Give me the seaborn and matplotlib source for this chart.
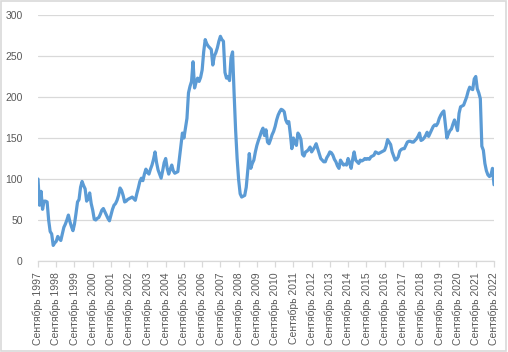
import numpy as np
import pandas as pd
import matplotlib
matplotlib.use("Agg")
import matplotlib.pyplot as plt
import seaborn as sns
from matplotlib.patches import Rectangle

# Ежемесячные значения, сентябрь 1997 - сентябрь 2022
start_year = 1997
end_year = 2022
values = [
    100, 68, 85, 63, 73, 73, 72, 50, 36, 33, 19, 22,       # 1997-09 .. 1998-08
    24, 30, 27, 25, 33, 41, 45, 50, 56, 48, 42, 37,        # 1998-09 ..
    45, 58, 72, 75, 90, 97, 92, 88, 73, 76, 83, 70,        # 1999-09 ..
    62, 51, 50, 52, 53, 57, 62, 64, 60, 56, 52, 49,        # 2000-09 ..
    56, 63, 68, 70, 74, 80, 89, 86, 80, 72, 73, 75,        # 2001-09 ..
    76, 77, 78, 76, 74, 82, 89, 97, 101, 98, 106, 112,     # 2002-09 ..
    108, 106, 112, 117, 124, 133, 120, 111, 106, 101, 110, 120,  # 2003-09 ..
    125, 113, 106, 112, 117, 110, 107, 108, 109, 125, 140, 156,  # 2004-09 ..
    150, 162, 174, 205, 213, 219, 243, 211, 218, 223, 219, 224,  # 2005-09 ..
    233, 255, 270, 265, 262, 260, 258, 239, 250, 254, 260, 268,  # 2006-09 ..
    274, 270, 268, 230, 223, 225, 220, 248, 255, 205, 160, 125,  # 2007-09 ..
    99, 82, 78, 79, 80, 90, 110, 131, 113, 119, 123, 133,        # 2008-09 ..
    141, 147, 152, 158, 162, 153, 160, 145, 143, 148, 154, 158,  # 2009-09 ..
    164, 172, 178, 182, 185, 184, 182, 172, 168, 170, 155, 137,  # 2010-09 ..
    150, 144, 141, 156, 153, 148, 130, 128, 133, 134, 136, 139,  # 2011-09 ..
    133, 136, 139, 143, 137, 131, 125, 123, 121, 121, 126, 129,  # 2012-09 ..
    133, 132, 129, 124, 121, 116, 113, 123, 120, 117, 118, 117,  # 2013-09 ..
    125, 120, 113, 124, 133, 123, 121, 119, 123, 122, 123, 125,  # 2014-09 ..
    124, 125, 124, 127, 128, 129, 133, 132, 131, 132, 133, 134,  # 2015-09 ..
    135, 140, 148, 145, 142, 133, 128, 123, 124, 127, 134, 136,  # 2016-09 ..
    137, 137, 141, 145, 146, 146, 145, 145, 147, 149, 152, 156,  # 2017-09 ..
    147, 148, 150, 153, 157, 152, 156, 160, 164, 166, 165, 168,  # 2018-09 ..
    174, 178, 181, 183, 167, 150, 155, 159, 161, 167, 172, 166,  # 2019-09 ..
    159, 180, 188, 189, 190, 195, 200, 207, 212, 210, 209, 222,  # 2020-09 ..
    225, 210, 205, 198, 140, 135, 119, 110, 105, 103, 105, 113,  # 2021-09 ..
    93,                                                          # 2022-09
]
years = list(range(start_year, end_year + 1))
tick_labels = [f"Сентябрь {y}" for y in years]

df = pd.DataFrame({"month": np.arange(len(values)), "value": values})

sns.set_theme(style="white")
plt.rcParams["font.family"] = ["Liberation Sans", "DejaVu Sans"]

fig = plt.figure(figsize=(5.08, 3.52), dpi=100)
ax = fig.add_axes([38 / 508, 91 / 352, 456 / 508, 246 / 352])

sns.lineplot(data=df, x="month", y="value", ax=ax, color="#5B9BD5",
             linewidth=2.3, legend=False)

grid_c = "#D9D9D9"
text_c = "#595959"
ax.set_ylim(0, 300)
ax.set_yticks(range(0, 301, 50))
ax.set_xlim(0, len(values) - 1)
ax.set_xticks(range(0, len(values), 12))
ax.set_xticklabels(tick_labels, rotation=90)
ax.set_xlabel("")
ax.set_ylabel("")
ax.yaxis.grid(True, color=grid_c, linewidth=0.9)
ax.set_axisbelow(True)
for side in ["left", "right", "top"]:
    ax.spines[side].set_visible(False)
ax.spines["bottom"].set_color(grid_c)
ax.spines["bottom"].set_linewidth(0.9)
ax.tick_params(axis="x", direction="out", length=4, width=0.9, color=grid_c,
               labelsize=7.5, labelcolor=text_c, pad=4, bottom=True)
ax.tick_params(axis="y", length=0, labelsize=7.5, labelcolor=text_c, pad=11)

# рамка вокруг диаграммы
fig.patches.append(Rectangle((0.002, 0.003), 0.995, 0.994, transform=fig.transFigure,
                             fill=False, edgecolor=grid_c, linewidth=1.2))

fig.savefig("out.png", dpi=100)
